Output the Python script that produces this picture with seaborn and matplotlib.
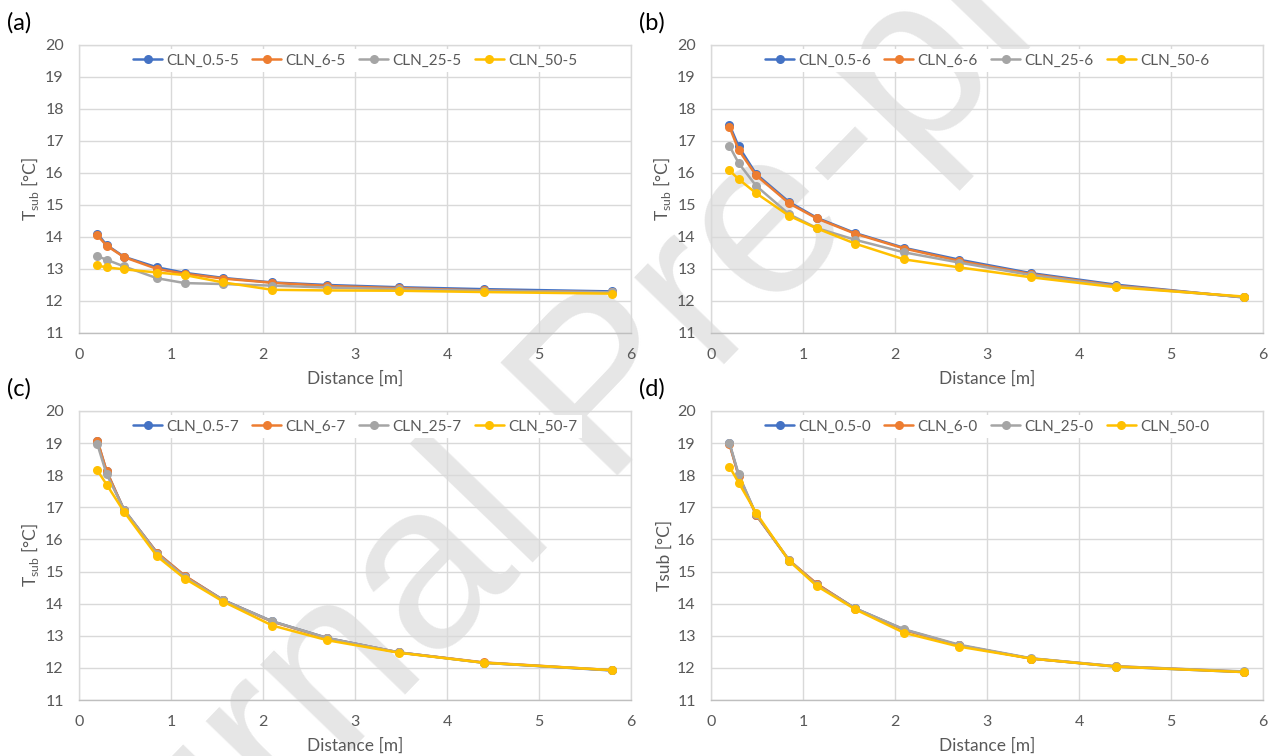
import matplotlib
matplotlib.use("Agg")
import matplotlib.pyplot as plt
import seaborn as sns
import pandas as pd

# ---------------- data ----------------
distance = [0.2, 0.3, 0.49, 0.85, 1.15, 1.57, 2.1, 2.7, 3.48, 4.4, 5.79]

a_labels = ["CLN_0.5-5", "CLN_6-5", "CLN_25-5", "CLN_50-5"]
a_cln05 = [14.10, 13.75, 13.38, 13.05, 12.88, 12.72, 12.58, 12.50, 12.43, 12.37, 12.30]
a_cln6 = [14.05, 13.73, 13.37, 13.00, 12.85, 12.70, 12.57, 12.47, 12.40, 12.33, 12.27]
a_cln25 = [13.40, 13.29, 13.08, 12.71, 12.56, 12.53, 12.48, 12.42, 12.37, 12.32, 12.27]
a_cln50 = [13.11, 13.05, 12.99, 12.89, 12.81, 12.58, 12.35, 12.33, 12.32, 12.28, 12.23]

b_labels = ["CLN_0.5-6", "CLN_6-6", "CLN_25-6", "CLN_50-6"]
b_cln05 = [17.51, 16.83, 15.97, 15.09, 14.60, 14.12, 13.66, 13.29, 12.87, 12.51, 12.11]
b_cln6 = [17.45, 16.72, 15.93, 15.05, 14.58, 14.10, 13.64, 13.25, 12.84, 12.48, 12.12]
b_cln25 = [16.85, 16.31, 15.60, 14.71, 14.28, 13.91, 13.52, 13.20, 12.81, 12.46, 12.12]
b_cln50 = [16.08, 15.81, 15.37, 14.66, 14.27, 13.79, 13.30, 13.05, 12.74, 12.43, 12.14]

c_labels = ["CLN_0.5-7", "CLN_6-7", "CLN_25-7", "CLN_50-7"]
c_cln05 = [19.07, 18.12, 16.92, 15.58, 14.86, 14.11, 13.45, 12.93, 12.48, 12.16, 11.92]
c_cln6 = [19.08, 18.13, 16.91, 15.58, 14.87, 14.10, 13.44, 12.92, 12.48, 12.17, 11.93]
c_cln25 = [18.96, 18.03, 16.93, 15.55, 14.83, 14.10, 13.45, 12.93, 12.48, 12.16, 11.93]
c_cln50 = [18.15, 17.71, 16.86, 15.47, 14.78, 14.06, 13.32, 12.86, 12.47, 12.16, 11.93]

d_labels = ["CLN_0.5-0", "CLN_6-0", "CLN_25-0", "CLN_50-0"]
d_cln05 = [18.99, 18.00, 16.77, 15.34, 14.61, 13.85, 13.19, 12.70, 12.29, 12.04, 11.87]
d_cln6 = [18.97, 17.98, 16.76, 15.35, 14.62, 13.84, 13.18, 12.70, 12.29, 12.05, 11.88]
d_cln25 = [19.01, 18.03, 16.78, 15.35, 14.58, 13.85, 13.20, 12.72, 12.30, 12.05, 11.89]
d_cln50 = [18.27, 17.77, 16.83, 15.33, 14.55, 13.82, 13.09, 12.66, 12.29, 12.04, 11.87]

panel_tags = ["(a)", "(b)", "(c)", "(d)"]
x_ticks = [0, 1, 2, 3, 4, 5, 6]
y_ticks = [11, 12, 13, 14, 15, 16, 17, 18, 19, 20]
x_label = "Distance [m]"
y_label_sub = r"T$_{\mathregular{sub}}$ [°C]"
y_label_plain = "Tsub [°C]"
watermark = "Journal Pre-proof"

colors = ["#4472C4", "#ED7D31", "#A5A5A5", "#FFC000"]

# ---------------- style ----------------
sns.set_theme(style="white")
plt.rcParams["font.family"] = ["Lato", "DejaVu Sans"]
plt.rcParams["mathtext.fontset"] = "custom"
plt.rcParams["mathtext.rm"] = "Lato"

TXT = "#595959"
GRID = "#D9D9D9"

fig = plt.figure(figsize=(12.77, 7.56), dpi=100)
fig.patch.set_facecolor("white")

W, H = 1277.0, 756.0
boxes = [  # left, top, right, bottom in pixels
    (79, 45, 631, 333),
    (711, 45, 1263, 333),
    (79, 411, 631, 700),
    (711, 411, 1263, 700),
]
panels = [
    (a_labels, [a_cln05, a_cln6, a_cln25, a_cln50], y_label_sub),
    (b_labels, [b_cln05, b_cln6, b_cln25, b_cln50], y_label_sub),
    (c_labels, [c_cln05, c_cln6, c_cln25, c_cln50], y_label_sub),
    (d_labels, [d_cln05, d_cln6, d_cln25, d_cln50], y_label_plain),
]

for i, ((labels, series, ylab), (l, t, r, b)) in enumerate(zip(panels, boxes)):
    ax = fig.add_axes([l / W, 1 - b / H, (r - l) / W, (b - t) / H])
    ax.set_facecolor("none")
    frames = []
    for lab, vals in zip(labels, series):
        frames.append(pd.DataFrame({"Distance": distance, "T": vals, "Series": lab}))
    df = pd.concat(frames, ignore_index=True)
    sns.lineplot(
        data=df, x="Distance", y="T", hue="Series", hue_order=labels,
        palette=colors, marker="o", markersize=6.5, markeredgewidth=0,
        linewidth=1.8, sort=False, ax=ax, legend=True,
    )
    ax.set_xlim(0, 6)
    ax.set_ylim(11, 20)
    ax.set_xticks(x_ticks)
    ax.set_yticks(y_ticks)
    ax.grid(True, color=GRID, linewidth=1.0)
    ax.set_axisbelow(True)
    for s in ax.spines.values():
        s.set_color(GRID)
        s.set_linewidth(1.0)
    ax.spines["bottom"].set_color("#BFBFBF")
    ax.tick_params(axis="both", length=0, labelsize=11.5, labelcolor=TXT)
    ax.tick_params(axis="y", pad=11)
    ax.tick_params(axis="x", pad=11)
    ax.set_xlabel(x_label, fontsize=12.5, color=TXT, labelpad=6)
    ax.set_ylabel(ylab, fontsize=12.5, color=TXT, labelpad=3)
    leg = ax.legend(
        loc="upper center", bbox_to_anchor=(0.5, 1.0), ncol=4,
        frameon=True, fancybox=False, framealpha=1.0, facecolor="white",
        edgecolor="none", fontsize=11, handlelength=1.9, handletextpad=0.25,
        columnspacing=0.9, borderaxespad=0.25, borderpad=0.3,
    )
    for txt in leg.get_texts():
        txt.set_color(TXT)
    fig.text((l - 72) / W, 1 - (t - 22) / H, panel_tags[i], fontsize=17,
             color="black", ha="left", va="center")

fig.text(610 / W, 1 - 395 / H, watermark, fontsize=170, rotation=46,
         color="#E6E6E6", ha="center", va="center", zorder=-1,
         family=["Liberation Sans", "DejaVu Sans"])

fig.savefig("out.png", dpi=100, facecolor="white")
